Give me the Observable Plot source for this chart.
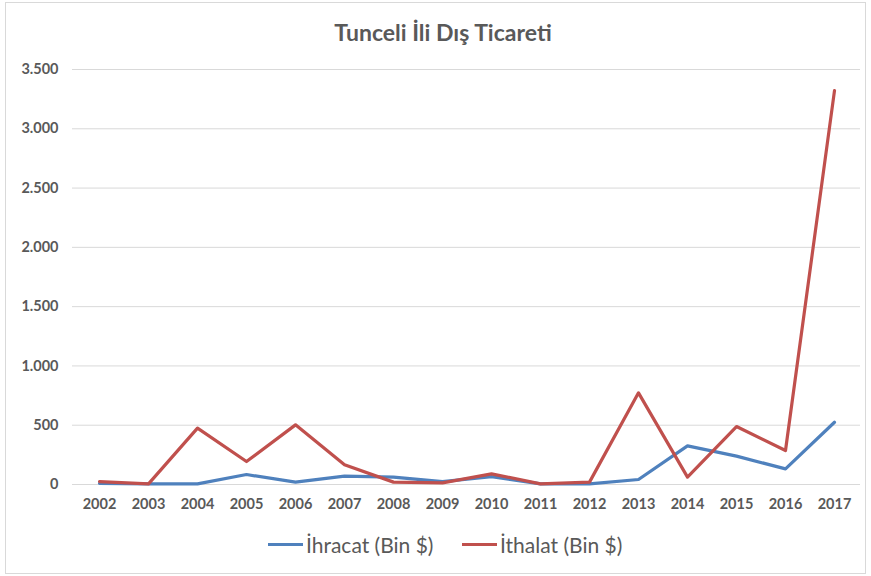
<!DOCTYPE html>
<html>
<head>
<meta charset="utf-8">
<script src="https://cdn.jsdelivr.net/npm/d3@7"></script>
<script src="https://cdn.jsdelivr.net/npm/@observablehq/plot@0.6"></script>
<style>
  html, body { margin: 0; padding: 0; background: #fff; }
  #frame { position: absolute; left: 5px; top: 2px; width: 859px; height: 570px; border: 1px solid #d9d9d9; }
  #title { position: absolute; left: 0; top: 18px; width: 886px; text-align: center; font-family: Lato, sans-serif; font-weight: bold; font-size: 23px; color: #595959; }
  #chart { position: absolute; left: 0; top: 50px; }
  #legend { position: absolute; top: 532px; left: 0; width: 871px; font-family: Lato, sans-serif; font-size: 21px; color: #595959; }
  .item { position: absolute; display: flex; align-items: center; white-space: nowrap; }
  .sw { display: inline-block; width: 35px; height: 3px; margin-right: 3px; }
  svg text { font-family: Lato, sans-serif; }
</style>
</head>
<body>
<div id="frame"></div>
<div id="title">Tunceli İli Dış Ticareti</div>
<div id="chart"></div>
<div id="legend"></div>
<script>
const years = ["2002","2003","2004","2005","2006","2007","2008","2009","2010","2011","2012","2013","2014","2015","2016","2017"];
const ihracat = [10, 5, 5, 84, 20, 70, 62, 25, 67, 5, 6, 42, 326, 239, 132, 525];
const ithalat = [25, 5, 475, 194, 503, 166, 20, 14, 90, 5, 20, 773, 62, 489, 287, 3322];
const seriesNames = ["İhracat (Bin $)", "İthalat (Bin $)"];
const seriesColors = ["#4F81BD", "#C0504D"];
const yTicks = [0, 500, 1000, 1500, 2000, 2500, 3000, 3500];

const rows = [];
years.forEach((y, i) => {
  rows.push({year: y, value: ihracat[i], series: seriesNames[0]});
  rows.push({year: y, value: ithalat[i], series: seriesNames[1]});
});

const fmt = d3.formatLocale({decimal: ",", thousands: ".", grouping: [3], currency: ["", ""]}).format(",");

const chart = Plot.plot({
  width: 871,
  height: 470,
  marginLeft: 72,
  marginRight: 11,
  marginTop: 19,
  marginBottom: 36,
  style: {fontFamily: "Lato, sans-serif", fontSize: "14.5px", color: "#595959", background: "transparent"},
  x: {type: "point", domain: years, padding: 0.5, label: null, tickSize: 0, tickPadding: 14},
  y: {domain: [0, 3500], ticks: yTicks, tickFormat: fmt, label: null, tickSize: 0, tickPadding: 14},
  color: {domain: seriesNames, range: seriesColors},
  marks: [
    Plot.gridY(yTicks, {stroke: "#d9d9d9", strokeOpacity: 1, strokeWidth: 1}),
    Plot.axisX({tickSize: 0, tickPadding: 14, fontWeight: "bold", fill: "#595959", label: null}),
    Plot.axisY({ticks: yTicks, tickFormat: fmt, tickSize: 0, tickPadding: 14, fontWeight: "bold", fill: "#595959", label: null}),
    Plot.line(rows, {x: "year", y: "value", z: "series", stroke: "series", strokeWidth: 3.2, strokeLinejoin: "round", strokeLinecap: "round"})
  ]
});
document.getElementById("chart").appendChild(chart);

const legend = document.getElementById("legend");
const lefts = [268, 462];
seriesNames.forEach((name, i) => {
  const item = document.createElement("div");
  item.className = "item";
  item.style.left = lefts[i] + "px";
  const sw = document.createElement("span");
  sw.className = "sw";
  sw.style.background = seriesColors[i];
  const t = document.createElement("span");
  t.textContent = name;
  item.appendChild(sw);
  item.appendChild(t);
  legend.appendChild(item);
});
</script>
</body>
</html>
